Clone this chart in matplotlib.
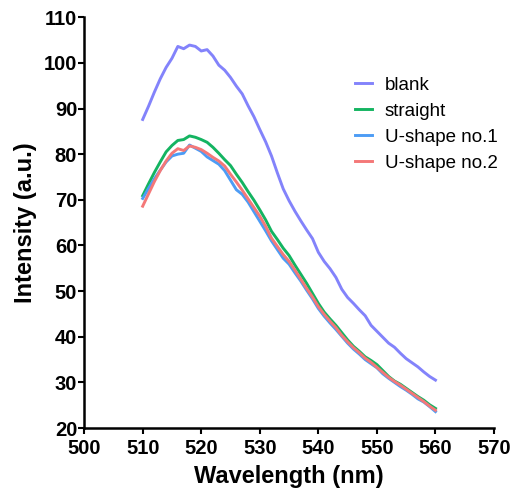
import matplotlib

matplotlib.use("Agg")

import numpy as np
from matplotlib import pyplot as plt

wavelength = np.arange(510, 561)

blank = [
    87.6, 90.5, 93.6, 96.5, 99.0, 101.0, 103.6, 103.1, 103.9, 103.6,
    102.6, 102.9, 101.5, 99.5, 98.4, 96.8, 94.9, 93.2, 90.6, 88.2,
    85.4, 82.7, 79.6, 75.9, 72.4, 69.8, 67.5, 65.4, 63.4, 61.5,
    58.5, 56.5, 54.9, 53.0, 50.4, 48.6, 47.3, 45.9, 44.6, 42.5,
    41.2, 39.9, 38.6, 37.7, 36.4, 35.2, 34.3, 33.4, 32.3, 31.3,
    30.5,
]
straight = [
    70.9, 73.5, 76.0, 78.3, 80.5, 81.9, 83.0, 83.2, 84.0, 83.7,
    83.2, 82.6, 81.5, 80.2, 78.8, 77.5, 75.6, 73.8, 71.8, 69.9,
    67.8, 65.6, 63.1, 61.3, 59.4, 57.8, 55.7, 53.7, 51.7, 49.5,
    47.3, 45.4, 43.9, 42.5, 40.9, 39.3, 37.9, 36.8, 35.6, 34.8,
    33.9, 32.6, 31.3, 30.3, 29.6, 28.7, 27.8, 26.9, 26.1, 25.1,
    24.3,
]
ushape1 = [
    70.3, 72.5, 74.6, 76.5, 78.3, 79.6, 80.0, 80.2, 82.0, 81.3,
    80.6, 79.4, 78.6, 77.8, 76.4, 74.3, 72.2, 71.2, 69.5, 67.4,
    65.3, 63.2, 61.0, 59.1, 57.2, 55.9, 54.0, 52.2, 50.2, 48.3,
    46.2, 44.5, 43.0, 41.6, 40.1, 38.6, 37.3, 36.2, 35.0, 34.1,
    33.2, 31.9, 30.9, 30.0, 29.1, 28.3, 27.4, 26.4, 25.7, 24.7,
    23.6,
]
ushape2 = [
    68.6, 71.3, 74.0, 76.4, 78.5, 80.2, 81.2, 80.8, 81.8, 81.5,
    81.0, 80.2, 79.3, 78.5, 77.4, 75.6, 73.9, 72.1, 70.2, 68.3,
    66.4, 64.2, 61.6, 59.8, 58.0, 56.5, 54.6, 52.6, 50.6, 48.7,
    46.6, 44.9, 43.4, 42.0, 40.3, 38.9, 37.6, 36.5, 35.3, 34.4,
    33.3, 32.2, 31.1, 30.2, 29.4, 28.5, 27.6, 26.7, 25.8, 24.8,
    23.9,
]

series = [
    ("blank", blank, "#8383fb"),
    ("straight", straight, "#14b461"),
    ("U-shape no.1", ushape1, "#4d9cf5"),
    ("U-shape no.2", ushape2, "#f47878"),
]

plt.rcParams["font.family"] = ["Liberation Sans", "DejaVu Sans"]

fig = plt.figure(figsize=(5.13, 4.92), dpi=100)
ax = fig.add_axes([0.164, 0.130, 0.799, 0.835])

for label, vals, color in series:
    ax.plot(wavelength, vals, color=color, linewidth=2.1, label=label)

ax.set_xlim(500, 570)
ax.set_ylim(20, 110)
ax.set_xticks(np.arange(500, 571, 10))
ax.set_yticks(np.arange(20, 111, 10))

for side in ("top", "right"):
    ax.spines[side].set_visible(False)
for side in ("left", "bottom"):
    ax.spines[side].set_linewidth(1.8)
ax.tick_params(axis="both", direction="out", length=4, width=1.5, labelsize=14.5)
ax.tick_params(axis="x", pad=4)
ax.tick_params(axis="y", pad=1)
for lbl in ax.get_xticklabels() + ax.get_yticklabels():
    lbl.set_fontweight("bold")

ax.set_xlabel("Wavelength (nm)", fontsize=17, fontweight="bold", labelpad=5)
ax.set_ylabel("Intensity (a.u.)", fontsize=17, fontweight="bold", labelpad=5)

ax.legend(loc="upper left", bbox_to_anchor=(0.66, 0.855), frameon=False,
          borderpad=0, borderaxespad=0,
          fontsize=13.5, handlelength=0.95, handletextpad=0.65, labelspacing=0.47)

fig.savefig("out.png", dpi=100, facecolor="white")
